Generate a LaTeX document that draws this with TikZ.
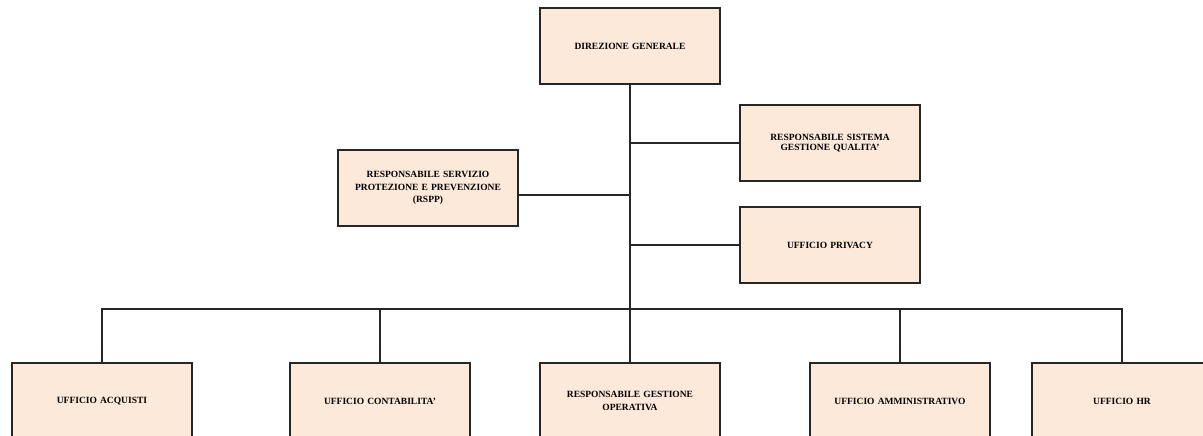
\documentclass[tikz,border=0pt]{standalone}
\usepackage{fontspec}
\setmainfont{Liberation Serif}
\usetikzlibrary{positioning}

\definecolor{peach}{RGB}{253,233,217}

\begin{document}
\begin{tikzpicture}[x=1pt, y=-1pt,
            box/.style={draw=black!85, line width=1.3pt, fill=peach,
                        minimum width=180pt, minimum height=76pt,
                        align=center, text width=172pt,
                        font=\fontsize{9.5}{12.5}\selectfont\bfseries},
            link/.style={line width=1.6pt, black!85}]

    \useasboundingbox (0,0) rectangle (1203,436);
    \clip (0,0) rectangle (1203,436);

    \node[box] (dg)   at (630,46)  {DIREZIONE GENERALE};
    \node[box] (qual) at (830,143) {RESPONSABILE SISTEMA\\[-3pt]GESTIONE QUALITA'};
    \node[box] (rspp) at (428,188) {RESPONSABILE SERVIZIO\\PROTEZIONE E PREVENZIONE\\(RSPP)};
    \node[box] (priv) at (830,245) {UFFICIO PRIVACY};

    \node[box] (acq)  at (102,401)  {UFFICIO ACQUISTI};
    \node[box] (cont) at (380,401)  {UFFICIO CONTABILITA'};
    \node[box] (gest) at (630,401)  {RESPONSABILE GESTIONE\\OPERATIVA};
    \node[box] (amm)  at (900,401)  {UFFICIO AMMINISTRATIVO};
    \node[box] (hr)   at (1122,401) {UFFICIO HR};

    \coordinate (bus) at (630,309);

    % trunk and side branches
    \draw[link] (dg.south) -- (gest.north);
    \draw[link] (qual.west) -- (qual.west -| dg.south);
    \draw[link] ([yshift=-7pt]rspp.east) -- ([yshift=-7pt]rspp.east -| dg.south);
    \draw[link] (priv.west) -- (priv.west -| dg.south);

    % bottom row
    \draw[link] (acq.north) |- (bus) -| (hr.north);
    \foreach \n in {cont,amm}
        \draw[link] (\n.north) -- (\n.north |- bus);
\end{tikzpicture}
\end{document}
